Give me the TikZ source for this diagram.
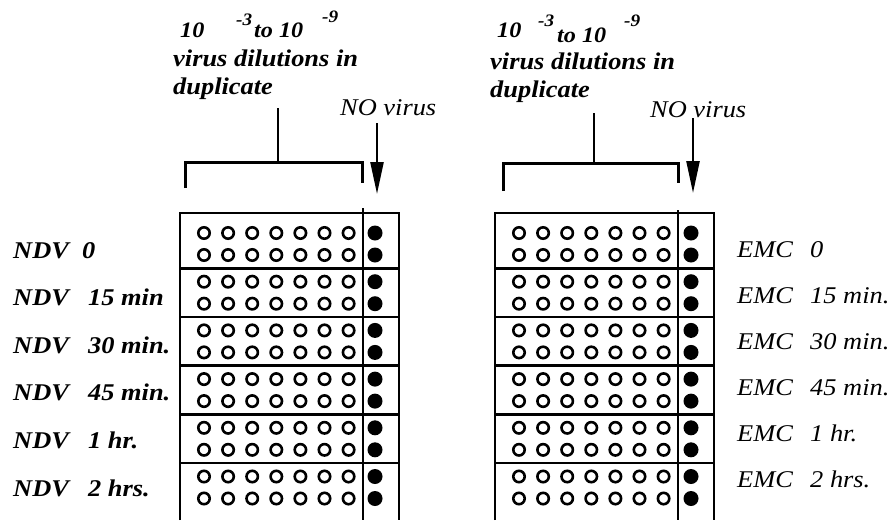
\documentclass[tikz,border=0pt]{standalone}
\usepackage{fontspec}
\newfontfamily\platefont{Liberation Serif}[FakeStretch=1.1]
\usetikzlibrary{arrows.meta}
\begin{document}
\begin{tikzpicture}[x=1pt,y=-1pt,
  lbl/.style={anchor=base west, inner sep=0pt,
    font=\platefont\fontsize{24}{28}\selectfont\bfseries\itshape},
  lightlbl/.style={anchor=base west, inner sep=0pt,
    font=\platefont\fontsize{24}{28}\selectfont\itshape},
  powlbl/.style={anchor=base west, inner sep=0pt,
    font=\platefont\fontsize{22}{26}\selectfont\bfseries\itshape},
  suplbl/.style={anchor=base west, inner sep=0pt,
    font=\platefont\fontsize{17.5}{20}\selectfont\bfseries\itshape},
  wall/.style={line width=2.8pt},
  rowline/.style={line width=2.6pt},
  divider/.style={line width=2.2pt},
  bracket/.style={line width=3pt},
  stem/.style={line width=2.2pt},
  noarrow/.style={line width=2.4pt, -{Triangle[length=32pt,width=13pt]}},
  well/.style={line width=2.6pt},
]
\useasboundingbox (0,0) rectangle (893,522);

% ---------- plates: outline, rows, wells ----------
% L left edge, D divider, R right edge, W first well x, C control well x, T divider top
\foreach \L/\D/\R/\W/\C/\T in {180/363/399/204/375/208, 495/678/714/519/691/210}{
  \draw[wall] (\L,520) -- (\L,213) -- (\R,213) -- (\R,520);
  \draw[divider] (\D,\T) -- (\D,520);
  \foreach \k in {0,...,4}
    \draw[rowline] (\L,{268.35+48.7*\k}) -- (\R,{268.35+48.7*\k});
  \foreach \k in {0,...,5}{
    \foreach \s in {-11,11}{
      \foreach \i in {0,...,6}
        \draw[well] ({\W+24.1*\i},{244+48.7*\k+\s}) circle (5.7);
      \fill (\C,{244+48.7*\k+\s}) circle (7.5);
    }
  }
}

% ---------- left header ----------
\node[powlbl] (la10) at (180,37) {10};
\node[suplbl] (laexp) at (236,25) {-3};
\node[powlbl] (lato) at (254,37) {to 10};
\node[suplbl] (lbexp) at (322,22) {-9};
\node[lbl] (ldil) at (173,66) {virus dilutions in};
\node[lbl] (ldup) at (173,94) {duplicate};
\node[lightlbl] (lno) at (340,115) {NO virus};

\coordinate (lbA) at (185,188);
\coordinate (lbB) at (185,162);
\coordinate (lbC) at (362,162);
\coordinate (lbD) at (362,183);
\coordinate (lstemtop) at (278,108);
\coordinate (lstembot) at (278,162);
\draw[bracket] (lbA) -- (lbB) -- (lbC) -- (lbD);
\draw[stem] (lstemtop) -- (lstembot);
\coordinate (larrtop) at (377,123);
\coordinate (larrtip) at (377,194);
\draw[noarrow] (larrtop) -- (larrtip);

% ---------- right header ----------
\node[powlbl] (ra10) at (497,37) {10};
\node[suplbl] (raexp) at (538,26) {-3};
\node[powlbl] (rato) at (557,42) {to 10};
\node[suplbl] (rbexp) at (624,27) {-9};
\node[lbl] (rdil) at (490,69) {virus dilutions in};
\node[lbl] (rdup) at (490,97) {duplicate};
\node[lightlbl] (rno) at (650,117) {NO virus};

\coordinate (rbA) at (503,191);
\coordinate (rbB) at (503,163);
\coordinate (rbC) at (678,163);
\coordinate (rbD) at (678,183);
\coordinate (rstemtop) at (594,113);
\coordinate (rstembot) at (594,163);
\draw[bracket] (rbA) -- (rbB) -- (rbC) -- (rbD);
\draw[stem] (rstemtop) -- (rstembot);
\coordinate (rarrtop) at (693,118);
\coordinate (rarrtip) at (693,193);
\draw[noarrow] (rarrtop) -- (rarrtip);

% ---------- row labels ----------
\node[lbl] (ndv0)  at (13,258)   {\makebox[69pt][l]{NDV}0};
\node[lbl] (ndv15) at (13,305.5) {\makebox[75pt][l]{NDV}15 min};
\node[lbl] (ndv30) at (13,353.2) {\makebox[75pt][l]{NDV}30 min.};
\node[lbl] (ndv45) at (13,400.9) {\makebox[75pt][l]{NDV}45 min.};
\node[lbl] (ndv1)  at (13,448.6) {\makebox[75pt][l]{NDV}1 hr.};
\node[lbl] (ndv2)  at (13,496.3) {\makebox[75pt][l]{NDV}2 hrs.};

\node[lightlbl] (emc0)  at (737,257) {\makebox[73pt][l]{EMC}0};
\node[lightlbl] (emc15) at (737,303) {\makebox[73pt][l]{EMC}15 min.};
\node[lightlbl] (emc30) at (737,349) {\makebox[73pt][l]{EMC}30 min.};
\node[lightlbl] (emc45) at (737,395) {\makebox[73pt][l]{EMC}45 min.};
\node[lightlbl] (emc1)  at (737,441) {\makebox[73pt][l]{EMC}1 hr.};
\node[lightlbl] (emc2)  at (737,487) {\makebox[73pt][l]{EMC}2 hrs.};
\end{tikzpicture}
\end{document}
